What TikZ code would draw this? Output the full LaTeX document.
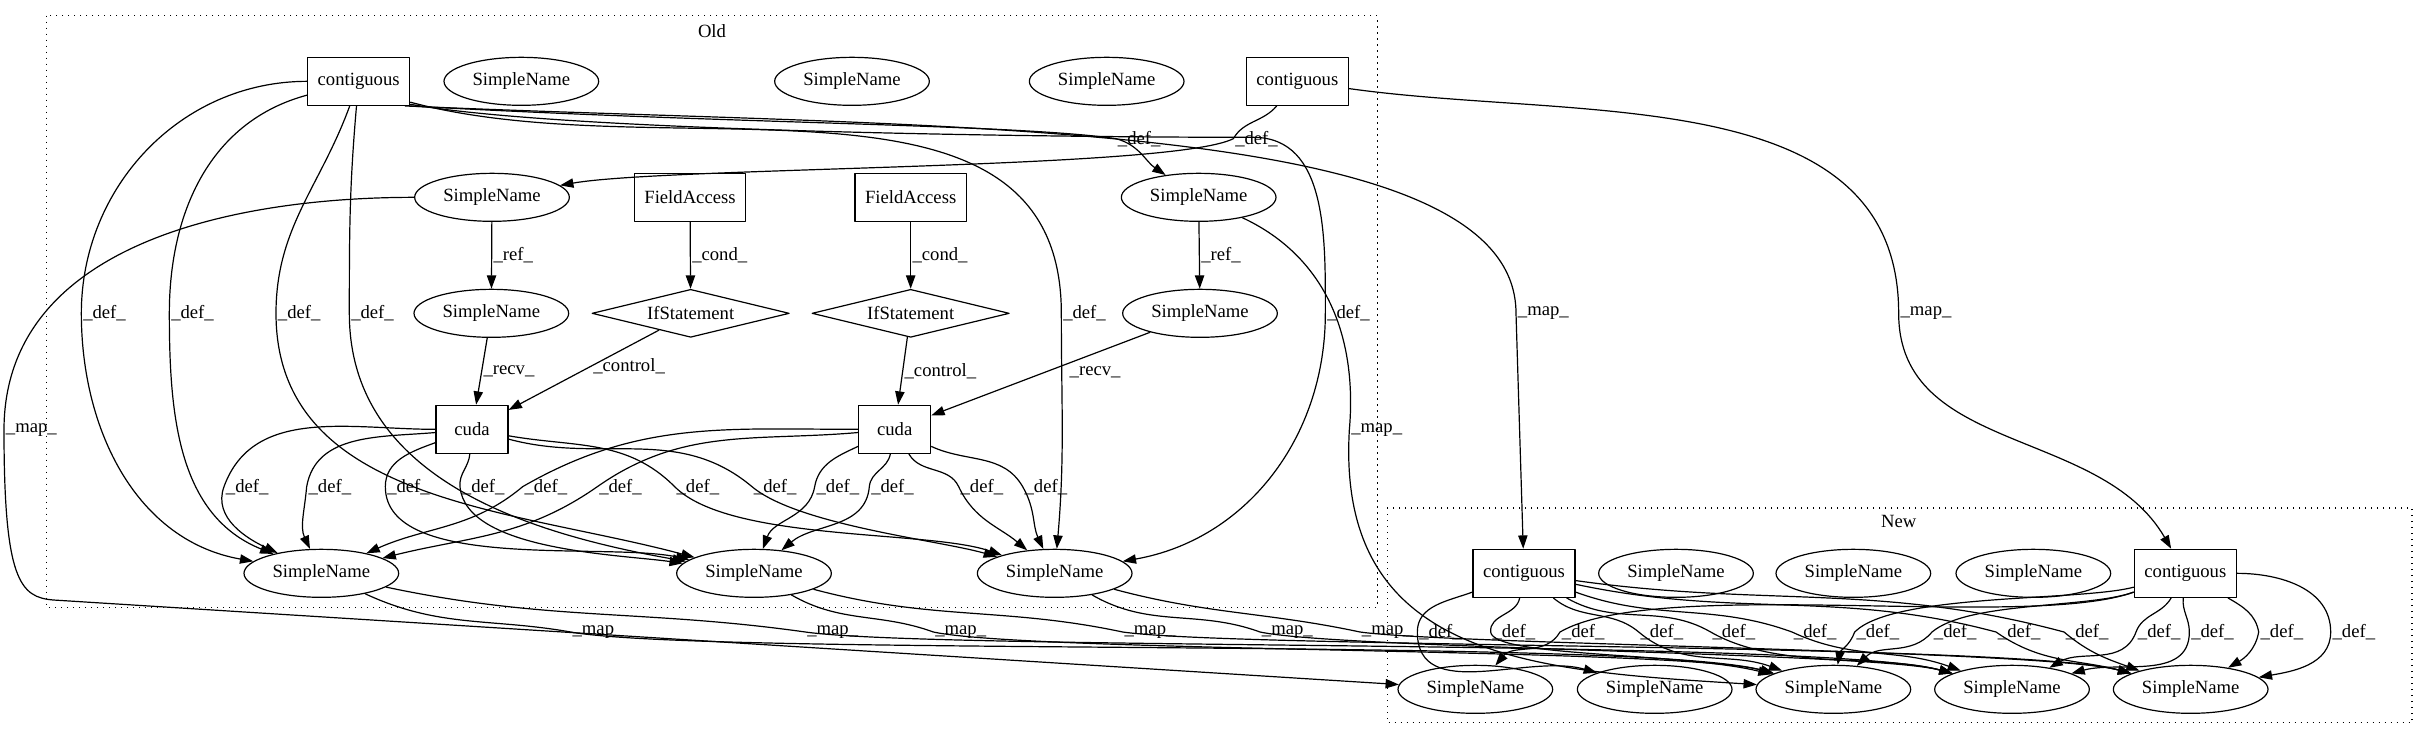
\documentclass[tikz,border=0pt]{standalone}
\usepackage{fontspec}
\setmainfont{Liberation Serif}
\usetikzlibrary{shapes.geometric,arrows.meta}
\begin{document}
\begin{tikzpicture}[x=1pt,y=1pt,line join=round,line width=0.9pt,
    font=\fontsize{14pt}{16pt}\selectfont,
    sn/.style={draw,ellipse,minimum width=116pt,minimum height=36pt,inner sep=0pt},
    box/.style={draw,rectangle,minimum width=54pt,minimum height=36pt,inner xsep=7.5pt,inner ysep=0pt},
    cond/.style={draw,diamond,aspect=4,minimum width=148pt,minimum height=36pt,inner sep=0pt},
    lbl/.style={anchor=west,inner sep=1pt},
    dep/.style={-{Triangle[length=10pt,width=7pt]}},
    cluster/.style={dash pattern=on 1pt off 3.5pt}]
\useasboundingbox (0,0) rectangle (1820.25,555);
% clusters
\draw[cluster] (35,543.2) rectangle (1033,99.5);
\node (oldlbl) at (534,532) {Old};
\draw[cluster] (1040.5,174) rectangle (1809,13);
\node (newlbl) at (1424,164) {New};
% old nodes
\node[box] (c1) at (269,494) {contiguous};
\node[sn] (u1) at (391,494) {SimpleName};
\node[sn] (u2) at (639,494) {SimpleName};
\node[sn] (u3) at (830,494) {SimpleName};
\node[box] (c2) at (973,494) {contiguous};
\node[sn] (sna) at (369,407) {SimpleName};
\node[box] (fa1) at (517.5,407) {FieldAccess};
\node[box] (fa2) at (683,407) {FieldAccess};
\node[sn] (snb) at (899,407) {SimpleName};
\node[sn] (snc) at (368.5,320) {SimpleName};
\node[cond] (if1) at (518,320) {IfStatement};
\node[cond] (if2) at (683,320) {IfStatement};
\node[sn] (snd) at (900,320) {SimpleName};
\node[box] (cu1) at (354,233) {cuda};
\node[box] (cu2) at (671,233) {cuda};
\node[sn] (snl) at (241,125) {SimpleName};
\node[sn] (snm) at (565.5,125) {SimpleName};
\node[sn] (snr) at (791,125) {SimpleName};
% new nodes
\node[box] (c3) at (1143,125) {contiguous};
\node[sn] (nu1) at (1257,125) {SimpleName};
\node[sn] (nu2) at (1390,125) {SimpleName};
\node[sn] (nu3) at (1525,125) {SimpleName};
\node[box] (c4) at (1639,125) {contiguous};
\node[sn] (nb1) at (1106.5,38) {SimpleName};
\node[sn] (nb2) at (1241,38) {SimpleName};
\node[sn] (nb3) at (1375,38) {SimpleName};
\node[sn] (nb4) at (1509,38) {SimpleName};
\node[sn] (nb5) at (1643,38) {SimpleName};
% old edges
\draw[dep] (c1) to[out=180,in=90] (61,320) node[lbl]{\_def\_} to[out=-90,in=170] (snl);
\draw[dep] (c1) to[out=195,in=90] (127,320) node[lbl]{\_def\_} to[out=-90,in=158] (snl);
\draw[dep] (c1) to[out=250,in=90] (207,320) node[lbl]{\_def\_} to[out=-90,in=165] (snm);
\draw[dep] (c1) to[out=265,in=90] (262,320) node[lbl]{\_def\_} to[out=-90,in=170] (snm);
\draw[dep] (c1.-22) to[out=-15,in=90] (796,320) node[lbl]{\_def\_} to[out=-90,in=85] (snr);
\draw[dep] (c1.-24) to[out=-10,in=180,looseness=.5] (940,452) to[out=0,in=90] (994,320) node[lbl]{\_def\_} to[out=-90,in=10] (snr);
\draw[dep] (c1.-26) .. controls (550,462) and (760,462) .. (837,451) node[lbl]{\_def\_} to[out=-15,in=146] (snb);
\draw[dep] (c2) to[out=230,in=60] (925,451) node[lbl]{\_def\_} .. controls (880,428) and (500,430) .. (sna);
\draw[dep] (sna) -- node[lbl]{\_ref\_} (snc);
\draw[dep] (fa1) -- node[lbl]{\_cond\_} (if1);
\draw[dep] (fa2) -- node[lbl]{\_cond\_} (if2);
\draw[dep] (snb) -- node[lbl]{\_ref\_} (snd);
\draw[dep] (snc) -- node[lbl]{\_recv\_} (cu1);
\draw[dep] (if1) -- node[lbl,pos=.45]{\_control\_} (cu1);
\draw[dep] (snd) -- node[lbl,pos=.48,xshift=17pt]{\_recv\_} (cu2);
\draw[dep] (if2) -- node[lbl]{\_control\_} (cu2);
\draw[dep] (cu1) to[out=180,in=70] (168,190) node[lbl]{\_def\_} to[out=-110,in=155] (snl);
\draw[dep] (cu1) to[out=185,in=80] (230,190) node[lbl]{\_def\_} to[out=-95,in=115] (snl);
\draw[dep] (cu1) to[out=200,in=90] (289,190) node[lbl]{\_def\_} to[out=-90,in=168,looseness=.7] (snm);
\draw[dep] (cu1) to[out=-95,in=95] (345,190) node[lbl]{\_def\_} to[out=-85,in=172,looseness=.7] (snm);
\draw[dep] (cu1) to[out=-10,in=135] (506,190) node[lbl]{\_def\_} to[out=-45,in=161,looseness=.6] (snr);
\draw[dep] (cu1) to[out=-15,in=140] (564,190) node[lbl]{\_def\_} to[out=-40,in=164,looseness=.6] (snr);
\draw[dep] (cu2) to[out=180,in=30] (392,190) node[lbl]{\_def\_} to[out=220,in=24] (snl);
\draw[dep] (cu2) to[out=185,in=35] (448,190) node[lbl]{\_def\_} to[out=215,in=14] (snl);
\draw[dep] (cu2) to[out=205,in=80] (611,190) node[lbl]{\_def\_} to[out=-100,in=70] (snm);
\draw[dep] (cu2) to[out=-100,in=85] (652,190) node[lbl]{\_def\_} to[out=-95,in=40] (snm);
\draw[dep] (cu2) to[out=-60,in=115] (719,190) node[lbl]{\_def\_} to[out=-65,in=140] (snr);
\draw[dep] (cu2) to[out=-25,in=120] (767,190) node[lbl]{\_def\_} to[out=-60,in=115] (snr);
% maps
\draw[dep] (sna) to[out=180,in=90] (3,232.5) node[lbl]{\_map\_} .. controls (3,120) and (15,107) .. (40,105) -- (nb1);
\draw[dep] (snb) to[out=-25,in=85] (1012,232.5) node[lbl]{\_map\_} .. controls (1002,60) and (1150,52) .. (nb3);
\draw[dep] (snl) to[out=-25,in=170] (428,81) node[lbl]{\_map\_} to[out=-10,in=165,looseness=.3] (nb3);
\draw[dep] (snl) to[out=-12,in=172] (604,81) node[lbl]{\_map\_} to[out=-8,in=165,looseness=.3] (nb4);
\draw[dep] (snm) to[out=-30,in=160] (700,81) node[lbl]{\_map\_} to[out=-12,in=165,looseness=.3] (nb3);
\draw[dep] (snm) to[out=-15,in=168] (842,81) node[lbl]{\_map\_} to[out=-8,in=165,looseness=.3] (nb5);
\draw[dep] (snr) to[out=-30,in=160] (945,81) node[lbl]{\_map\_} to[out=-12,in=165,looseness=.3] (nb4);
\draw[dep] (snr) to[out=-15,in=168] (1020,81) node[lbl]{\_map\_} to[out=-8,in=165,looseness=.3] (nb5);
\draw[dep] (c1.-28) .. controls (700,458) and (1137,470) .. (1137,320) node[lbl]{\_map\_} -- (c3);
\draw[dep] (c2) to[out=-8,in=90] (1424,320) node[lbl]{\_map\_} to[out=-90,in=120] (c4);
% new edges
\draw[dep] (c3) to[out=200,in=90] (1063,81) node[lbl]{\_def\_} to[out=-90,in=164] (nb2);
\draw[dep] (c3) to[out=-100,in=95] (1118,81) node[lbl]{\_def\_} .. controls (1120,62) and (1260,66) .. (nb3);
\draw[dep] (c3) to[out=-40,in=140] (1229,81) node[lbl]{\_def\_} to[out=-40,in=160] (nb3);
\draw[dep] (c3) to[out=-30,in=150] (1283,81) node[lbl]{\_def\_} to[out=-30,in=165,looseness=.8] (nb4);
\draw[dep] (c3) to[out=-20,in=160] (1344,81) node[lbl]{\_def\_} to[out=-25,in=160] (nb4);
\draw[dep] (c3) to[out=-12,in=165] (1497,81) node[lbl]{\_def\_} to[out=-35,in=165] (nb5);
\draw[dep] (c3) to[out=-8,in=165] (1548,81) node[lbl]{\_def\_} to[out=-40,in=160] (nb5);
\draw[dep] (c4) to[out=200,in=30,looseness=.5] (1170,81) node[lbl]{\_def\_} to[out=-120,in=50] (nb1);
\draw[dep] (c4) to[out=195,in=45,looseness=.5] (1391,81) node[lbl]{\_def\_} to[out=-110,in=80] (nb3);
\draw[dep] (c4) to[out=200,in=40,looseness=.6] (1449,81) node[lbl]{\_def\_} to[out=-130,in=45] (nb3);
\draw[dep] (c4) to[out=-120,in=70] (1602,81) node[lbl]{\_def\_} to[out=-110,in=30] (nb4);
\draw[dep] (c4) to[out=-95,in=90] (1642,81) node[lbl]{\_def\_} to[out=-90,in=15] (nb4);
\draw[dep] (c4) to[out=-30,in=100] (1694,81) node[lbl]{\_def\_} to[out=-100,in=30] (nb5);
\draw[dep] (c4) to[out=0,in=90] (1748,81) node[lbl]{\_def\_} to[out=-90,in=10] (nb5);
\end{tikzpicture}
\end{document}
